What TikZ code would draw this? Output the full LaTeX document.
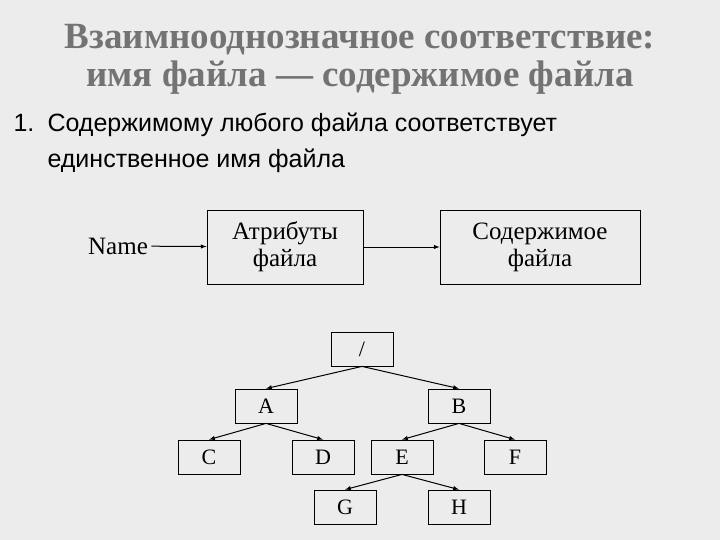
\documentclass[tikz,border=0pt]{standalone}
\usepackage{fontspec}
\setmainfont{Liberation Serif}
\newfontfamily\arial{Liberation Sans}
\begin{document}
\begin{tikzpicture}[x=1pt,y=-1pt,
 bx/.style={draw,line width=0.8pt,inner sep=0pt,font=\fontsize{25}{27}\selectfont,align=center},
 tb/.style={draw,line width=0.8pt,inner sep=0pt,minimum width=62pt,minimum height=34pt,font=\fontsize{22}{24}\selectfont},
 ar/.style={-latex,line width=1pt}]
\fill[gray!15] (0,0) rectangle (720,540);
\useasboundingbox (0,0) rectangle (720,540);
\node[text=gray!110,font=\fontsize{37}{38}\selectfont\bfseries,align=center] (title) at (360,59) {Взаимнооднозначное соответствие:\\имя файла — содержимое файла};
\node[anchor=base west,font=\arial\fontsize{25}{27}\selectfont] (n1) at (10,132) {1.};
\node[anchor=base west,font=\arial\fontsize{25}{27}\selectfont,align=left] (t1) at (44,132) {Содержимому любого файла соответствует};
\node[anchor=base west,font=\arial\fontsize{25}{27}\selectfont] (t2) at (44,168) {единственное имя файла};
\node[font=\fontsize{25}{27}\selectfont] (name) at (118,246) {Name};
\node[bx,minimum width=156pt,minimum height=74pt] (attr) at (285,247) {Атрибуты\\файла};
\node[bx,minimum width=200pt,minimum height=74pt] (cont) at (540,247) {Содержимое\\файла};
\draw[ar] (name) -- (attr);
\draw[ar] (attr) -- (cont);
\node[tb] (r) at (362,349) {/};
\node[tb] (A) at (266,406) {A};
\node[tb] (B) at (459,406) {B};
\node[tb] (C) at (209,457) {C};
\node[tb] (D) at (323,457) {D};
\node[tb] (E) at (402,457) {E};
\node[tb] (F) at (515,457) {F};
\node[tb] (G) at (345,507) {G};
\node[tb] (H) at (459,507) {H};
\foreach \p/\c in {r/A,r/B,A/C,A/D,B/E,B/F,E/G,E/H}
 \draw[ar] (\p.south) -- (\c.north);
\end{tikzpicture}
\end{document}
